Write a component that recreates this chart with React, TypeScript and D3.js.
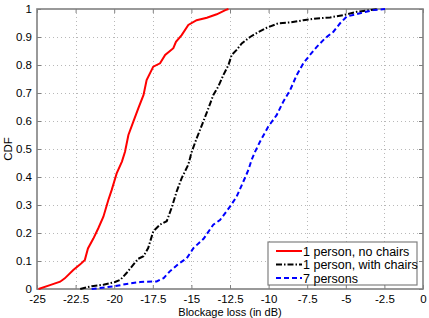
import React, { useRef, useEffect } from 'react';
import * as d3 from 'd3';

const redX = [-24.9, -24.16, -23.5, -23.2, -22.65, -22.2, -21.9, -21.7, -21.35, -21.03, -20.7, -20.38, -20.16, -19.84, -19.5, -19.3, -19.08, -18.76, -18.44, -18.1, -17.9, -17.47, -17.03, -16.7, -16.17, -16.0, -15.63, -15.2, -14.66, -14.0, -13.36, -12.8, -12.6];
const redY = [0, 0.014, 0.026, 0.038, 0.068, 0.088, 0.104, 0.145, 0.18, 0.217, 0.258, 0.318, 0.354, 0.413, 0.455, 0.49, 0.55, 0.598, 0.645, 0.693, 0.746, 0.794, 0.806, 0.836, 0.86, 0.883, 0.907, 0.943, 0.96, 0.969, 0.981, 0.996, 1];

const blackX = [-22.2, -21.46, -20.7, -19.95, -19.6, -19.2, -18.76, -18.44, -18.1, -17.8, -17.47, -17.03, -16.6, -16.28, -15.95, -15.63, -15.2, -14.98, -14.66, -14.23, -13.9, -13.58, -13.26, -12.93, -12.6, -12.39, -12.07, -11.74, -11.2, -10.67, -10.12, -9.37, -8.6, -7.75, -6.88, -6.02, -5.16, -4.29, -3.43, -2.9];
const blackY = [0, 0.01, 0.015, 0.025, 0.033, 0.057, 0.087, 0.108, 0.117, 0.146, 0.206, 0.23, 0.242, 0.29, 0.349, 0.396, 0.444, 0.49, 0.538, 0.598, 0.645, 0.693, 0.723, 0.764, 0.8, 0.836, 0.854, 0.877, 0.9, 0.917, 0.933, 0.949, 0.952, 0.96, 0.966, 0.97, 0.978, 0.99, 0.996, 1];

const blueX = [-21.46, -19.95, -19.2, -18.3, -17.25, -16.8, -16.4, -15.85, -15.3, -14.87, -14.2, -13.58, -13.15, -12.5, -12.07, -11.64, -11.31, -11.1, -10.88, -10.56, -10.02, -9.48, -9.05, -8.61, -8.18, -7.75, -7.32, -6.88, -6.35, -5.8, -5.37, -4.94, -4.08, -3.22, -2.46];
const blueY = [0, 0.01, 0.018, 0.025, 0.027, 0.039, 0.063, 0.089, 0.11, 0.146, 0.18, 0.23, 0.246, 0.294, 0.33, 0.383, 0.425, 0.461, 0.49, 0.526, 0.58, 0.621, 0.669, 0.71, 0.764, 0.806, 0.836, 0.865, 0.895, 0.919, 0.949, 0.973, 0.985, 0.996, 1];

const xTicks = [-25, -22.5, -20, -17.5, -15, -12.5, -10, -7.5, -5, -2.5, 0];
const xTickLabels = ['-25', '-22.5', '-20', '-17.5', '-15', '-12.5', '-10', '-7.5', '-5', '-2.5', '0'];
const yTicks = [0, 0.1, 0.2, 0.3, 0.4, 0.5, 0.6, 0.7, 0.8, 0.9, 1];
const yTickLabels = ['0', '0.1', '0.2', '0.3', '0.4', '0.5', '0.6', '0.7', '0.8', '0.9', '1'];

const seriesNames = ['1 person, no chairs', '1 person, with chairs', '7 persons'];

const App = () => {
  const svgRef = useRef<SVGSVGElement>(null);

  useEffect(() => {
    const width = 429;
    const height = 318;
    const marginTop = 9;
    const marginRight = 6;
    const marginBottom = 29;
    const marginLeft = 37;
    const font = 'Liberation Sans, Arial, sans-serif';
    const axisColor = '#808080';

    const x = d3.scaleLinear().domain([-25, 0]).range([marginLeft, width - marginRight]);
    const y = d3.scaleLinear().domain([0, 1]).range([height - marginBottom, marginTop]);

    const svg = d3.select(svgRef.current);
    svg.selectAll('*').remove();
    svg.attr('width', width).attr('height', height).attr('viewBox', [0, 0, width, height]);

    svg.append('rect').attr('width', width).attr('height', height).attr('fill', 'white');

    // Grid
    const grid = svg.append('g')
      .attr('stroke', '#b8b8b8')
      .attr('stroke-width', 1)
      .attr('stroke-dasharray', '1,3');
    grid.selectAll('line.gx')
      .data(xTicks.slice(1, -1))
      .join('line')
      .attr('x1', d => Math.round(x(d)) + 0.5).attr('x2', d => Math.round(x(d)) + 0.5)
      .attr('y1', y(1)).attr('y2', y(0));
    grid.selectAll('line.gy')
      .data(yTicks.slice(1, -1))
      .join('line')
      .attr('class', 'gy')
      .attr('y1', d => Math.round(y(d)) + 0.5).attr('y2', d => Math.round(y(d)) + 0.5)
      .attr('x1', x(-25)).attr('x2', x(0));

    // Axes (MATLAB style: inward ticks)
    const fmtX = (d: number) => xTickLabels[xTicks.indexOf(d)];
    const fmtY = (d: number) => yTickLabels[yTicks.indexOf(d)];

    const styleAxis = (g: any) => {
      g.select('.domain').remove();
      g.selectAll('.tick line').attr('stroke', axisColor);
      g.selectAll('.tick text').attr('fill', 'black').style('font-size', '11.5px').style('font-family', font);
    };

    svg.append('g')
      .attr('transform', `translate(0,${y(0)})`)
      .call(d3.axisBottom(x).tickValues(xTicks).tickFormat(fmtX as any).tickSizeInner(-4).tickPadding(6).tickSizeOuter(0))
      .call(styleAxis);
    svg.append('g')
      .attr('transform', `translate(0,${y(1)})`)
      .call(d3.axisTop(x).tickValues(xTicks).tickFormat(() => '').tickSizeInner(-4).tickSizeOuter(0))
      .call(styleAxis);
    svg.append('g')
      .attr('transform', `translate(${x(-25)},0)`)
      .call(d3.axisLeft(y).tickValues(yTicks).tickFormat(fmtY as any).tickSizeInner(-4).tickPadding(5).tickSizeOuter(0))
      .call(styleAxis);
    svg.append('g')
      .attr('transform', `translate(${x(0)},0)`)
      .call(d3.axisRight(y).tickValues(yTicks).tickFormat(() => '').tickSizeInner(-4).tickSizeOuter(0))
      .call(styleAxis);

    // Frame
    svg.append('rect')
      .attr('x', x(-25)).attr('y', y(1))
      .attr('width', x(0) - x(-25)).attr('height', y(0) - y(1))
      .attr('fill', 'none').attr('stroke', axisColor).attr('stroke-width', 1.6);

    // Curves
    const line = d3.line<[number, number]>()
      .x(d => x(d[0]))
      .y(d => y(d[1]));

    const series = [
      { xs: redX, ys: redY, color: '#ff0000', dash: null },
      { xs: blackX, ys: blackY, color: '#000000', dash: '6,2,1.5,2' },
      { xs: blueX, ys: blueY, color: '#0000ff', dash: '5,3' },
    ];

    svg.append('g')
      .attr('fill', 'none')
      .selectAll('path')
      .data(series)
      .join('path')
      .attr('stroke', d => d.color)
      .attr('stroke-width', 2)
      .attr('stroke-dasharray', d => d.dash)
      .attr('d', d => line(d.xs.map((v, i) => [v, d.ys[i]] as [number, number])));

    // Axis labels
    svg.append('text')
      .attr('x', (x(-25) + x(0)) / 2)
      .attr('y', 315.5)
      .attr('text-anchor', 'middle')
      .style('font-family', font).style('font-size', '11px')
      .text('Blockage loss (in dB)');
    svg.append('text')
      .attr('transform', `translate(12,${(y(0) + y(1)) / 2}) rotate(-90)`)
      .attr('text-anchor', 'middle')
      .style('font-family', font).style('font-size', '11.5px')
      .text('CDF');

    // Legend
    const legend = svg.append('g').attr('transform', 'translate(268,242)');
    legend.append('rect')
      .attr('width', 149).attr('height', 43)
      .attr('fill', 'white').attr('stroke', axisColor).attr('stroke-width', 1.2);
    const item = legend.selectAll('g.item')
      .data(series)
      .join('g')
      .attr('transform', (d, i) => `translate(0,${9 + i * 13.5})`);
    item.append('line')
      .attr('x1', 8).attr('x2', 34)
      .attr('stroke', d => d.color)
      .attr('stroke-width', 2)
      .attr('stroke-dasharray', d => d.dash);
    item.append('text')
      .attr('x', 35).attr('y', 4.5)
      .style('font-family', font).style('font-size', '12.5px')
      .text((d, i) => seriesNames[i]);
  }, []);

  return (
    <div style={{ position: 'absolute', left: 0, top: 0 }}>
      <svg ref={svgRef}></svg>
    </div>
  );
};

export default App;
